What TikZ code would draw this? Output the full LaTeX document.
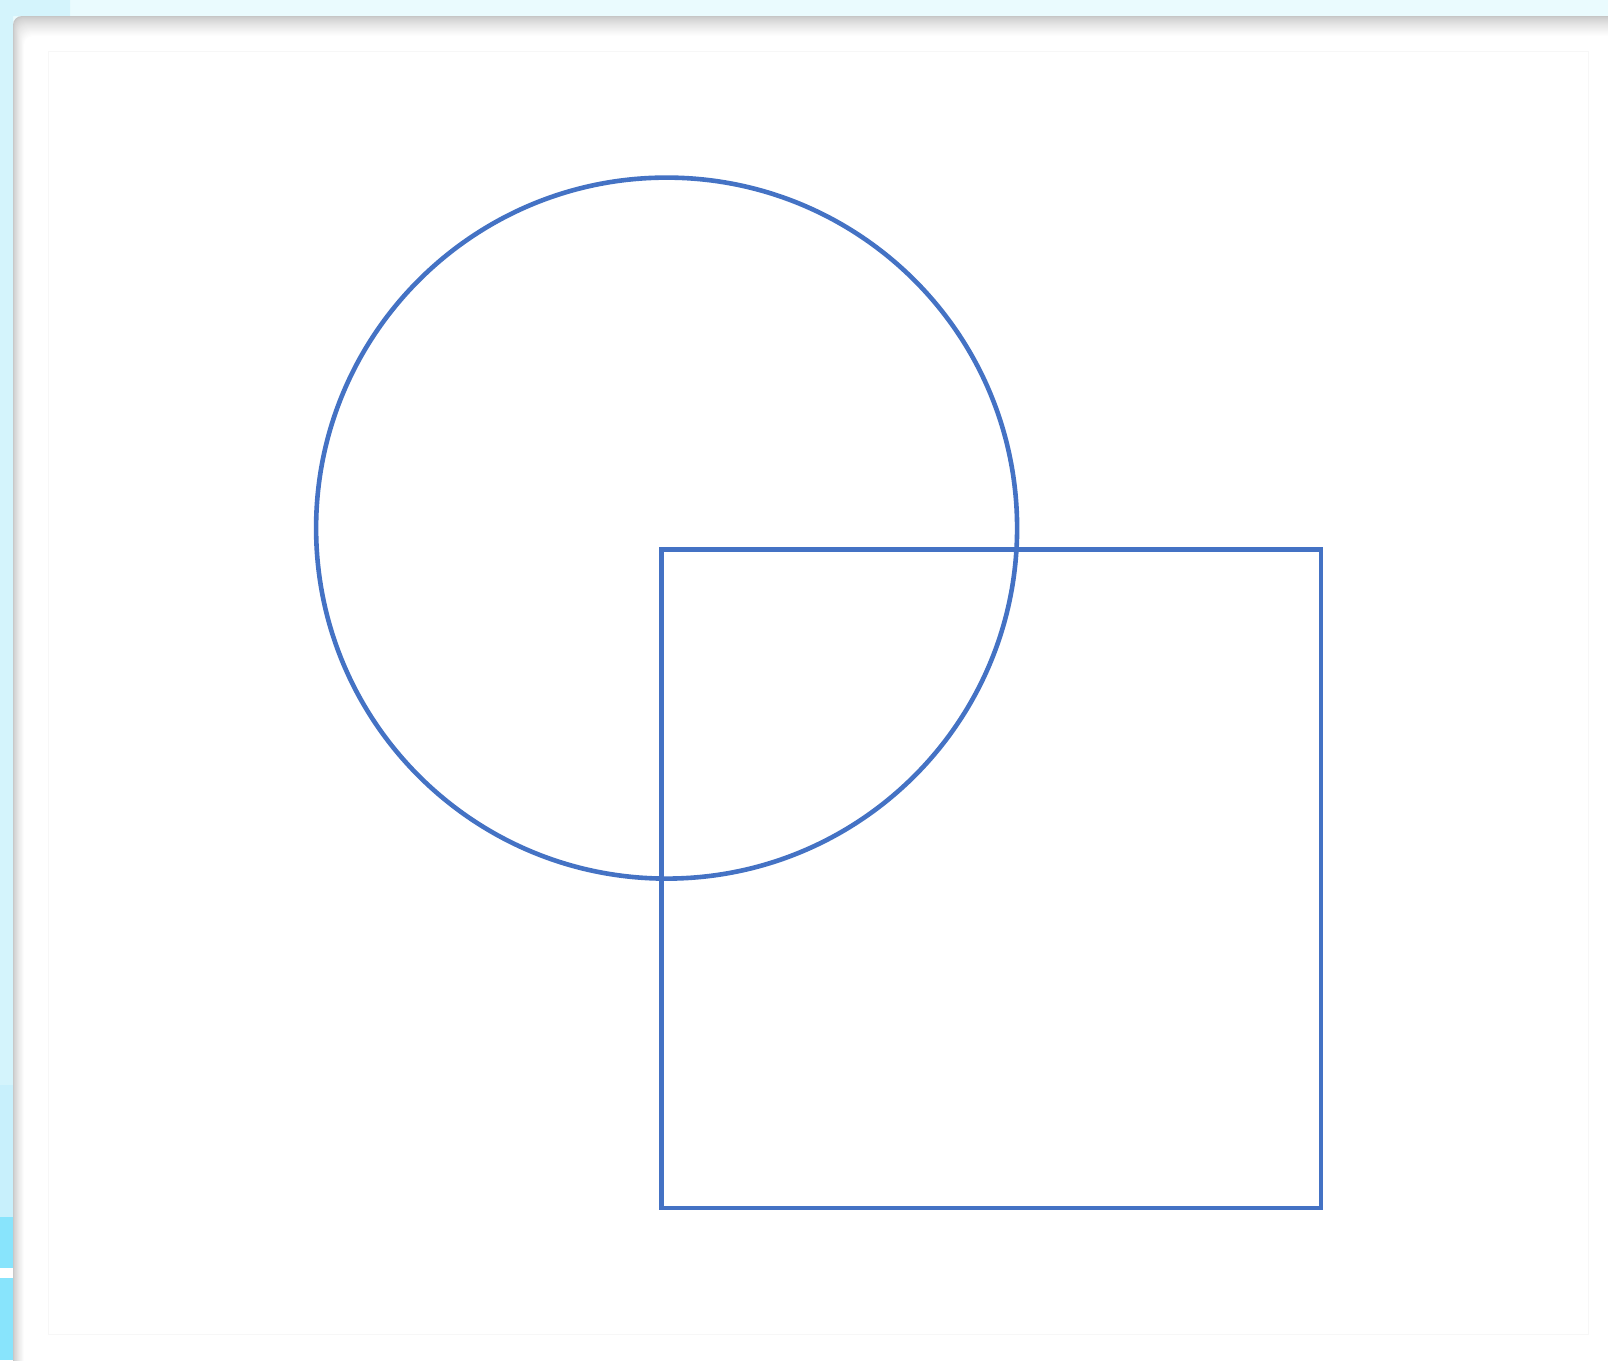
\documentclass[tikz,border=0pt]{standalone}
\usepackage{tikz}
\definecolor{shapeblue}{HTML}{4472C4}
\definecolor{bgcyan}{HTML}{EAFBFE}
\definecolor{bgcyanB}{HTML}{D4F4FC}
\definecolor{bgcyanC}{HTML}{C8F0FC}
\definecolor{bgcyanD}{HTML}{88E4FC}
\tikzset{shapeline/.style={draw=shapeblue,line width=4.6pt}}
\begin{document}
\begin{tikzpicture}[x=1pt,y=-1pt]
\useasboundingbox (0,0) rectangle (1608,1360);
% desktop background
\fill[bgcyan] (0,0) rectangle (1608,1360);
\fill[bgcyanB] (0,0) -- (70,0) -- (70,16) -- (13,16) -- (13,1085) -- (0,1085) -- cycle;
\fill[bgcyanC] (0,1085) rectangle (13,1217);
\fill[bgcyanD] (0,1217) rectangle (13,1268);
\fill[white] (0,1268) rectangle (13,1278);
\fill[bgcyanD] (0,1278) rectangle (13,1360);
% window with soft shadow on top and left
\foreach \i in {0,...,20} {
  \pgfmathsetmacro{\lv}{55+45*(\i/20)^0.7}
  \fill[white!\lv!gray, rounded corners=9pt] (13+\i*0.55,16+\i) rectangle (1640,1400);
}
\draw[gray!6,line width=0.8pt] (48,51) rectangle (1588,1334);
% shapes
\node[shapeline,circle,minimum size=701pt,inner sep=0pt] (circ) at (666.6,528.1) {};
\node[shapeline,rectangle,minimum width=659.4pt,minimum height=658.4pt,inner sep=0pt] (sq) at (991.2,878.9) {};
\end{tikzpicture}
\end{document}
